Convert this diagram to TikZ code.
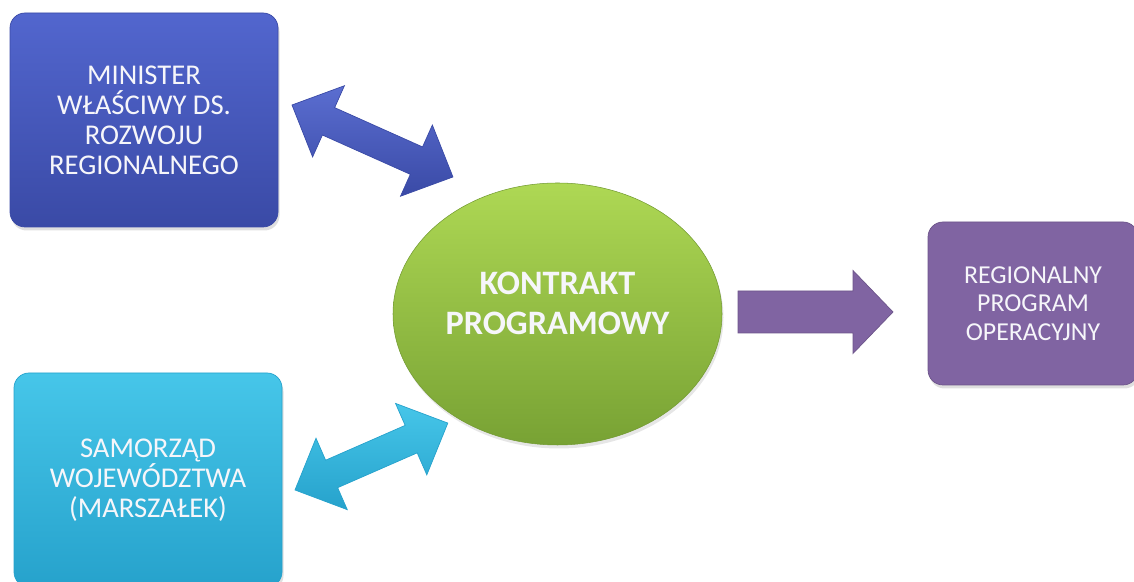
\documentclass[tikz,border=0pt]{standalone}
\usepackage{fontspec}
\setmainfont{Carlito}
\usetikzlibrary{calc,shapes.geometric,shadows}

\definecolor{minblue}{RGB}{82,102,206}
\definecolor{minbluedark}{RGB}{58,74,166}
\definecolor{samcyan}{RGB}{70,198,233}
\definecolor{samcyandark}{RGB}{38,162,204}
\definecolor{kpgreen}{RGB}{174,216,84}
\definecolor{kpgreendark}{RGB}{120,162,52}
\definecolor{rpopurple}{RGB}{128,100,162}
\definecolor{boxwhite}{RGB}{246,246,250}

% block arrow with a head at both ends, from #1 to #2
\newcommand{\dblblock}[3]{%
  \path[#3] let \p1=(#1), \p2=(#2),
    \n1={atan2(\y2-\y1,\x2-\x1)}, \n2={veclen(\x2-\x1,\y2-\y1)} in
    {[shift={(\p1)}, rotate=\n1]
    (0pt,0pt) -- (0.8cm,0.78cm) -- (0.8cm,0.3cm) -- ({\n2-0.8cm},0.3cm)
    -- ({\n2-0.8cm},0.78cm) -- ({\n2+0pt},0pt) -- ({\n2-0.8cm},-0.78cm)
    -- ({\n2-0.8cm},-0.3cm) -- (0.8cm,-0.3cm) -- (0.8cm,-0.78cm) -- cycle};
}
% block arrow with one head, from #1 to #2
\newcommand{\oneblock}[3]{%
  \path[#3] let \p1=(#1), \p2=(#2),
    \n1={atan2(\y2-\y1,\x2-\x1)}, \n2={veclen(\x2-\x1,\y2-\y1)} in
    {[shift={(\p1)}, rotate=\n1]
    (0pt,0.42cm) -- ({\n2-0.8cm},0.42cm) -- ({\n2-0.8cm},0.83cm)
    -- ({\n2+0pt},0pt) -- ({\n2-0.8cm},-0.83cm) -- ({\n2-0.8cm},-0.42cm)
    -- (0pt,-0.42cm) -- cycle};
}

\tikzset{
  box/.style={rectangle, rounded corners=0.3cm, align=center, inner sep=0pt,
    text=boxwhite, drop shadow={opacity=0.25,shadow xshift=0.03cm,shadow yshift=-0.07cm}},
  boxtext/.style={font=\fontsize{16.3}{17.1}\selectfont},
  minarrow/.style={top color=minblue!95!white, bottom color=minbluedark, draw=minbluedark, line width=0.4pt},
  samarrow/.style={top color=samcyan, bottom color=samcyandark, draw=samcyandark, line width=0.4pt},
  rpoarrow/.style={fill=rpopurple, draw=rpopurple!85!black, line width=0.4pt}
}

\begin{document}
\begin{tikzpicture}
        \useasboundingbox (0,0) rectangle (22.68,11.64);
        \clip (0,0) rectangle (22.68,11.64);

        % boxes
        \node[box, boxtext, top color=minblue, bottom color=minbluedark, draw=minbluedark,
              minimum width=5.36cm, minimum height=4.28cm] (MIN) at (2.88,9.24)
              {MINISTER\\WŁAŚCIWY DS.\\ROZWOJU\\REGIONALNEGO};
        \node[box, boxtext, top color=samcyan, bottom color=samcyandark, draw=samcyandark,
              minimum width=5.36cm, minimum height=4.28cm] (SAM) at (2.96,2.04)
              {SAMORZĄD\\WOJEWÓDZTWA\\(MARSZAŁEK)};
        \node[box, fill=rpopurple, draw=rpopurple!85!black, font=\fontsize{14.7}{16.2}\selectfont,
              minimum width=4.2cm, minimum height=3.26cm] (RPO) at (20.66,5.57)
              {REGIONALNY\\PROGRAM\\OPERACYJNY};

        % contract
        \node[ellipse, top color=kpgreen, bottom color=kpgreendark, draw=kpgreendark!95!black, line width=0.3pt,
              minimum width=6.58cm, minimum height=5.24cm, inner sep=0pt,
              drop shadow={opacity=0.2,shadow xshift=0.03cm,shadow yshift=-0.07cm}] (KP) at (11.15,5.36) {};
        \node[text=boxwhite, align=center, font=\bfseries\fontsize{19.5}{22.8}\selectfont]
              (KPtext) at ([yshift=0.22cm]KP.center) {KONTRAKT\\PROGRAMOWY};

        % arrow ends
        \coordinate (M1) at (5.84,9.54);
        \coordinate (M2) at (9.06,8.10);
        \coordinate (S1) at (5.90,1.84);
        \coordinate (S2) at (8.96,3.18);
        \coordinate (R1) at (14.76,5.40);
        \coordinate (R2) at (17.86,5.40);

        \dblblock{M1}{M2}{minarrow}
        \dblblock{S1}{S2}{samarrow}
        \oneblock{R1}{R2}{rpoarrow}
\end{tikzpicture}
\end{document}
